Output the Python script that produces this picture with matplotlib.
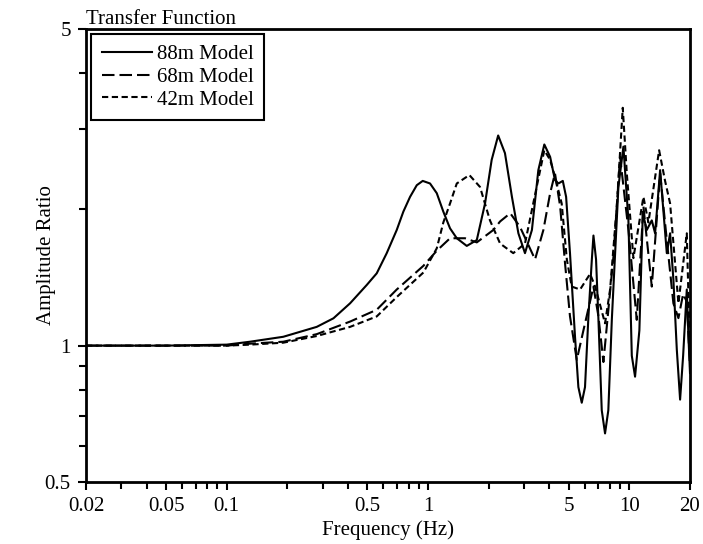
import numpy as np
import matplotlib.pyplot as plt
from matplotlib.ticker import FixedLocator, NullFormatter, FixedFormatter

plt.rcParams['font.family'] = ['Liberation Serif', 'DejaVu Serif']

# 88m model (solid)
f88 = [0.02, 0.05, 0.1, 0.1305, 0.191, 0.280, 0.339, 0.410, 0.496, 0.556, 0.623, 0.699,
       0.754, 0.814, 0.879, 0.941, 1.023, 1.105, 1.191, 1.286, 1.389, 1.557, 1.746, 1.919,
       2.07, 2.23, 2.41, 2.61, 2.81, 3.03, 3.28, 3.53, 3.78, 4.04, 4.27, 4.44, 4.67, 4.85,
       5.07, 5.37, 5.58, 5.80, 6.02, 6.26, 6.51, 6.63, 6.83, 7.02, 7.29, 7.57, 7.86, 8.18,
       8.82, 9.34, 9.89, 10.28, 10.67, 11.21, 11.66, 12.2, 12.92, 13.42, 14.21, 15.34,
       15.93, 16.54, 17.2, 17.86, 18.49, 19.28, 19.64, 20.0]
a88 = [1.0, 1.0, 1.005, 1.02, 1.046, 1.10, 1.149, 1.24, 1.361, 1.444, 1.599, 1.80,
       1.976, 2.13, 2.26, 2.31, 2.28, 2.17, 1.976, 1.815, 1.726, 1.66, 1.71, 2.06,
       2.57, 2.91, 2.66, 2.13, 1.77, 1.60, 1.80, 2.44, 2.78, 2.61, 2.32, 2.28, 2.31, 2.13,
       1.60, 1.046, 0.81, 0.748, 0.81, 1.16, 1.55, 1.75, 1.55, 1.14, 0.72, 0.64, 0.72, 1.14,
       2.24, 2.75, 1.89, 0.95, 0.854, 1.08, 1.96, 1.80, 1.89, 1.77, 2.44, 1.60,
       1.77, 1.40, 0.98, 0.76, 0.95, 1.33, 1.05, 0.87]

# 68m model (long dash)
f68 = [0.02, 0.1, 0.1305, 0.191, 0.280, 0.410, 0.556, 0.699, 0.948, 1.105, 1.286, 1.527,
       1.746, 2.11, 2.28, 2.56, 2.86, 3.40, 3.74, 4.04, 4.27, 4.53, 4.79, 5.07, 5.48,
       5.91, 6.63, 7.02, 7.43, 8.33, 8.99, 9.89, 10.88, 11.74, 12.92, 14.21, 15.34,
       16.54, 17.52, 18.49, 19.28, 20.0]
a68 = [1.0, 1.0, 1.01, 1.02, 1.06, 1.13, 1.20, 1.33, 1.50, 1.62, 1.726, 1.726,
       1.69, 1.80, 1.88, 1.96, 1.83, 1.55, 1.80, 2.17, 2.40, 2.03, 1.52, 1.16, 0.93,
       1.08, 1.35, 1.16, 0.92, 1.57, 2.61, 1.80, 1.14, 2.03, 1.35, 2.40, 1.71,
       1.24, 1.15, 1.30, 1.25, 0.90]

# 42m model (short dash)
f42 = [0.02, 0.1, 0.1305, 0.191, 0.280, 0.410, 0.556, 0.699, 0.948, 1.105, 1.191, 1.286,
       1.389, 1.604, 1.812, 2.03, 2.28, 2.65, 3.03, 3.33, 3.78, 4.04, 4.27, 4.61, 4.89,
       5.17, 5.69, 6.38, 6.76, 7.57, 8.02, 8.66, 9.27, 9.71, 10.47, 11.74, 12.43, 14.05,
       15.04, 15.93, 17.52, 19.28, 20.0]
a42 = [1.0, 1.0, 1.005, 1.015, 1.05, 1.10, 1.16, 1.28, 1.45, 1.64, 1.87, 2.06,
       2.28, 2.38, 2.24, 1.89, 1.68, 1.60, 1.68, 2.06, 2.70, 2.57, 2.36, 2.06, 1.55,
       1.35, 1.33, 1.44, 1.35, 1.12, 1.33, 2.03, 3.35, 2.40, 1.56, 2.13, 1.87, 2.70,
       2.31, 2.06, 1.24, 1.77, 0.95]

xticks = [0.02, 0.05, 0.1, 0.5, 1, 5, 10, 20]
xticklabels = ['0.02', '0.05', '0.1', '0.5', '1', '5', '10', '20']
xminor = [0.03, 0.04, 0.06, 0.07, 0.08, 0.09, 0.2, 0.3, 0.4, 0.6, 0.7, 0.8, 0.9,
          2, 3, 4, 6, 7, 8, 9]
yticks = [0.5, 1, 5]
yticklabels = ['0.5', '1', '5']
yminor = [0.6, 0.7, 0.8, 0.9, 2, 3, 4]

fig = plt.figure(figsize=(7.03, 5.44), dpi=100)
ax = fig.add_axes([0.1223, 0.114, 0.8592, 0.8327])

lw = 1.5
ax.plot(f88, a88, color='black', lw=lw, label='88m Model')
ax.plot(f68, a68, color='black', lw=lw, dashes=(6, 2.4), label='68m Model')
ax.plot(f42, a42, color='black', lw=lw, dashes=(3, 1.7), label='42m Model')

ax.set_xscale('log')
ax.set_yscale('log')
ax.set_xlim(0.02, 20)
ax.set_ylim(0.5, 5)

ax.xaxis.set_major_locator(FixedLocator(xticks))
ax.xaxis.set_major_formatter(FixedFormatter(xticklabels))
ax.xaxis.set_minor_locator(FixedLocator(xminor))
ax.xaxis.set_minor_formatter(NullFormatter())
ax.yaxis.set_major_locator(FixedLocator(yticks))
ax.yaxis.set_major_formatter(FixedFormatter(yticklabels))
ax.yaxis.set_minor_locator(FixedLocator(yminor))
ax.yaxis.set_minor_formatter(NullFormatter())

ax.tick_params(which='major', direction='out', length=6, width=1.5, labelsize=15, pad=5)
ax.tick_params(which='minor', direction='out', length=5, width=1.5)
for s in ax.spines.values():
    s.set_linewidth(2)

ax.set_xlabel('Frequency (Hz)', fontsize=15, labelpad=3)
ax.set_ylabel('Amplitude Ratio', fontsize=15)
ax.yaxis.set_label_coords(-0.05, 0.5)
ax.set_title('Transfer Function', loc='left', fontsize=15, pad=2)

leg = ax.legend(loc='upper left', fontsize=15, handlelength=2.4, handletextpad=0.25,
                labelspacing=0.15, borderaxespad=0.25, borderpad=0.5,
                fancybox=False, framealpha=1)
leg.get_frame().set_edgecolor('black')
leg.get_frame().set_linewidth(1.5)

fig.savefig('out.png', dpi=100)
